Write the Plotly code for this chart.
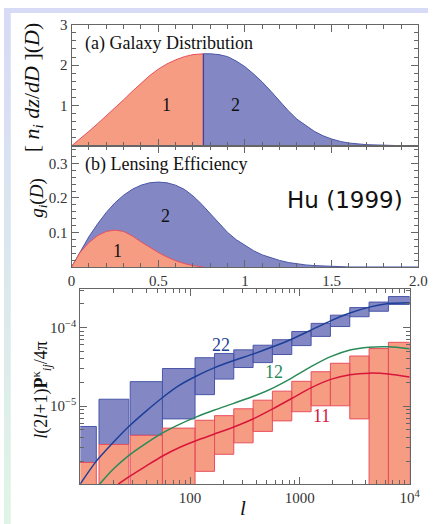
import plotly.graph_objects as go

# ---------------- data: panel (a) galaxy distribution ----------------
D_a1 = [0, 0.05, 0.1, 0.15, 0.2, 0.25, 0.3, 0.35, 0.4, 0.45, 0.5, 0.55, 0.6, 0.65, 0.7, 0.76]
n_a1 = [0, 0.17, 0.36, 0.55, 0.74, 0.94, 1.14, 1.35, 1.55, 1.74, 1.90, 2.03, 2.13, 2.21, 2.26, 2.28]
D_a2 = [0.76, 0.8, 0.85, 0.9, 0.95, 1.0, 1.05, 1.1, 1.15, 1.2, 1.25, 1.3, 1.35, 1.4, 1.45, 1.5,
        1.55, 1.6, 1.7, 1.8, 1.9, 2.0]
n_a2 = [2.28, 2.28, 2.26, 2.21, 2.10, 1.96, 1.78, 1.58, 1.35, 1.11, 0.87, 0.66, 0.50, 0.36, 0.25, 0.17,
        0.11, 0.07, 0.03, 0.012, 0.004, 0.001]

# ---------------- data: panel (b) lensing efficiency ----------------
D_b2 = [0, 0.05, 0.1, 0.15, 0.2, 0.25, 0.3, 0.35, 0.4, 0.45, 0.5, 0.55, 0.6, 0.65, 0.7, 0.75,
        0.8, 0.85, 0.9, 0.95, 1.0, 1.05, 1.1, 1.15, 1.2, 1.25, 1.3, 1.35, 1.4, 1.5, 1.6, 2.0]
g_b2 = [0, 0.045, 0.088, 0.125, 0.158, 0.186, 0.208, 0.225, 0.237, 0.244, 0.246, 0.244, 0.237, 0.225,
        0.206, 0.182, 0.155, 0.126, 0.100, 0.079, 0.062, 0.047, 0.035, 0.026, 0.019, 0.013, 0.009,
        0.006, 0.004, 0.001, 0, 0]
D_b1 = [0, 0.05, 0.1, 0.15, 0.2, 0.25, 0.3, 0.35, 0.4, 0.45, 0.5, 0.55, 0.6, 0.65, 0.7, 0.76]
g_b1 = [0, 0.043, 0.071, 0.091, 0.103, 0.107, 0.103, 0.090, 0.073, 0.057, 0.042, 0.029, 0.018,
        0.010, 0.004, 0]

# ---------------- data: panel (c) power spectra ----------------
bin_lo = [9, 14.8, 28.5, 56, 111, 167, 250, 375, 562, 844, 1266, 1898, 2848, 4271, 6407]
bin_hi = [14, 27.7, 56, 111, 167, 250, 375, 562, 844, 1266, 1898, 2848, 4271, 6407, 10000]
p22_lo = [1.92e-6, 3.25e-6, 4.25e-6, 6.88e-6, 1.40e-5, 2.21e-5, 3.10e-5, 3.58e-5, 4.54e-5, 5.89e-5,
          7.72e-5, 1.03e-4, 1.372e-4, 1.612e-4, 1.97e-4]
p22_hi = [5.51e-6, 1.224e-5, 2.05e-5, 3.01e-5, 4.13e-5, 4.68e-5, 5.20e-5, 5.96e-5, 7.00e-5, 8.91e-5,
          1.13e-4, 1.437e-4, 1.795e-4, 2.11e-4, 2.48e-4]
p11_lo = [5e-7, 5e-7, 5e-7, 5e-7, 1.48e-6, 2.44e-6, 3.41e-6, 4.77e-6, 6.49e-6, 8.49e-6, 1.01e-5,
          1.01e-5, 6.88e-6, 5e-7, 5e-7]
p11_hi = [1.92e-6, 3.25e-6, 4.25e-6, 5.25e-6, 6.61e-6, 7.56e-6, 9.25e-6, 1.19e-5, 1.55e-5, 2.07e-5,
          2.74e-5, 3.51e-5, 4.34e-5, 5.40e-5, 6.49e-5]

l_22 = [10, 14, 20, 28.1, 40, 56.2, 79, 113, 167, 250, 378, 566, 849, 1274, 1905, 2864, 4285, 6427, 10000]
c_22 = [1.023e-6, 1.995e-6, 3.467e-6, 5.623e-6, 8.71e-6, 1.288e-5, 1.820e-5, 2.399e-5, 3.090e-5,
        3.802e-5, 4.624e-5, 5.689e-5, 7.161e-5, 9.333e-5, 1.216e-4, 1.531e-4, 1.820e-4, 2.018e-4, 2.070e-4]
l_12 = [15, 20, 28.1, 40, 56.2, 79, 113, 167, 250, 378, 566, 849, 1274, 1905, 2864, 4285, 6427, 10000]
c_12 = [1.02e-6, 1.585e-6, 2.399e-6, 3.388e-6, 4.571e-6, 5.821e-6, 7.244e-6, 8.913e-6, 1.084e-5,
        1.334e-5, 1.698e-5, 2.291e-5, 3.199e-5, 4.266e-5, 5.188e-5, 5.623e-5, 5.689e-5, 5.370e-5]
l_11 = [22.2, 28.1, 40, 56.2, 79, 113, 167, 250, 378, 566, 849, 1274, 1905, 2864, 4285, 6427, 10000]
c_11 = [1.02e-6, 1.274e-6, 1.738e-6, 2.317e-6, 2.951e-6, 3.631e-6, 4.416e-6, 5.433e-6, 6.918e-6,
        9.226e-6, 1.259e-5, 1.718e-5, 2.188e-5, 2.512e-5, 2.630e-5, 2.570e-5, 2.344e-5]

# ---------------- styles ----------------
RED_FILL = "#f59c82"
RED_LINE = "#e8505e"
BLUE_FILL = "#8388c4"
BLUE_LINE = "#4a56a8"
BLUE_CURVE = "#1d3f98"
RED_CURVE = "#d8163a"
GREEN_CURVE = "#2a8a58"
AX = "#666666"
SERIF = "Times New Roman, Liberation Serif, Tinos, DejaVu Serif, serif"

fig = go.Figure()

# panel (a)
fig.add_trace(go.Scatter(x=D_a2, y=n_a2, mode="lines", fill="tozeroy", fillcolor=BLUE_FILL,
                         line=dict(color=BLUE_LINE, width=1), xaxis="x", yaxis="y"))
fig.add_trace(go.Scatter(x=D_a1, y=n_a1, mode="lines", fill="tozeroy", fillcolor=RED_FILL,
                         line=dict(color=RED_LINE, width=1), xaxis="x", yaxis="y"))
fig.add_trace(go.Scatter(x=[D_a1[-1], D_a1[-1]], y=[0, n_a1[-1]], mode="lines",
                         line=dict(color="#4a3f98", width=1.3), xaxis="x", yaxis="y"))

# panel (b)
fig.add_trace(go.Scatter(x=D_b2, y=g_b2, mode="lines", fill="tozeroy", fillcolor=BLUE_FILL,
                         line=dict(color=BLUE_LINE, width=1), xaxis="x2", yaxis="y2"))
fig.add_trace(go.Scatter(x=D_b1, y=g_b1, mode="lines", fill="tozeroy", fillcolor=RED_FILL,
                         line=dict(color=RED_LINE, width=1), xaxis="x2", yaxis="y2"))


def boxes(lo_x, hi_x, lo_y, hi_y):
    xs, ys = [], []
    for a, b, lo, hi in zip(lo_x, hi_x, lo_y, hi_y):
        xs += [a, b, b, a, a, None]
        ys += [lo, lo, hi, hi, lo, None]
    return xs, ys


bx, by = boxes(bin_lo, bin_hi, p22_lo, p22_hi)
fig.add_trace(go.Scatter(x=bx, y=by, mode="lines", fill="toself", fillcolor=BLUE_FILL,
                         line=dict(color=BLUE_LINE, width=1), xaxis="x3", yaxis="y3"))
rx, ry = boxes(bin_lo, bin_hi, p11_lo, p11_hi)
fig.add_trace(go.Scatter(x=rx, y=ry, mode="lines", fill="toself", fillcolor=RED_FILL,
                         line=dict(color=RED_LINE, width=1), xaxis="x3", yaxis="y3"))
for lx, cy, col in [(l_22, c_22, BLUE_CURVE), (l_12, c_12, GREEN_CURVE), (l_11, c_11, RED_CURVE)]:
    fig.add_trace(go.Scatter(x=lx, y=cy, mode="lines",
                             line=dict(color=col, width=1.5, shape="spline", smoothing=0.8),
                             xaxis="x3", yaxis="y3"))

tickfont = dict(family=SERIF, size=15, color="#333333")
common = dict(showline=True, linecolor=AX, linewidth=1.2, mirror="ticks", ticks="inside",
              tickcolor=AX, ticklen=7, showgrid=False, zeroline=False, tickfont=tickfont)

dom_x = [70 / 439, 429 / 439]
minor_lin_x = dict(dtick=0.1, ticks="inside", ticklen=4, tickcolor=AX, showgrid=False)

decade_minor = lambda lo, hi: [m * 10 ** e for e in range(lo, hi) for m in range(2, 10)]

fig.update_layout(
    width=439, height=524, margin=dict(l=0, r=0, t=0, b=0),
    font=dict(family=SERIF, size=15, color="#333333"),
    paper_bgcolor="white", plot_bgcolor="white", showlegend=False,
    xaxis=dict(domain=dom_x, range=[0, 2], anchor="y", tickvals=[0, 0.5, 1, 1.5, 2],
               showticklabels=False, minor=minor_lin_x, **common),
    yaxis=dict(domain=[1 - 140 / 524, 1 - 17 / 524], range=[0, 3], anchor="x",
               tickvals=[1, 2, 3], ticktext=["1", "2", "3"],
               minor=dict(dtick=0.2, ticks="inside", ticklen=4, tickcolor=AX, showgrid=False), **common),
    xaxis2=dict(domain=dom_x, range=[0, 2], anchor="y2", tickvals=[0, 0.5, 1, 1.5, 2],
                ticktext=["0", "0.5", "1", "1.5", "2.0"], minor=minor_lin_x, **common),
    yaxis2=dict(domain=[1 - 263 / 524, 1 - 140 / 524], range=[0, 0.351], anchor="x2",
                tickvals=[0.1, 0.2, 0.3], ticktext=["0.1", "0.2", "0.3"],
                minor=dict(dtick=0.02, ticks="inside", ticklen=4, tickcolor=AX, showgrid=False), **common),
    xaxis3=dict(domain=[79 / 439, 420 / 439], type="log", range=[1, 4], anchor="y3",
                tickvals=[10, 100, 1000, 10000], ticktext=["", "100", "1000", "10<sup>4</sup>"],
                minor=dict(tickvals=decade_minor(1, 4), ticks="inside", ticklen=4, tickcolor=AX,
                           showgrid=False), **common),
    yaxis3=dict(domain=[1 - 483.3 / 524, 1 - 285 / 524], type="log", range=[-5.99, -3.505], anchor="x3",
                tickvals=[1e-5, 1e-4], ticktext=["10<sup>\u22125</sup>", "10<sup>\u22124</sup>"],
                minor=dict(tickvals=decade_minor(-6, -3), ticks="inside", ticklen=4, tickcolor=AX,
                           showgrid=False), **common),
)

# background strips (slide-like frame)
shapes = [dict(type="rect", xref="paper", yref="paper", x0=0, x1=1, y0=1 - 5 / 524, y1=1,
               fillcolor="#d7dbf6", line=dict(width=0), layer="below")]
top_c = (0xd7, 0xdb, 0xf6)
bot_c = (0xdf, 0xf4, 0xe6)
n = 24
for i in range(n):
    t = i / (n - 1)
    c = tuple(int(round(top_c[k] + (bot_c[k] - top_c[k]) * t)) for k in range(3))
    shapes.append(dict(type="rect", xref="paper", yref="paper", x0=0, x1=7 / 439,
                       y0=1 - (i + 1) / n - 0.002, y1=1 - i / n,
                       fillcolor="rgb(%d,%d,%d)" % c, line=dict(width=0), layer="below"))
fig.update_layout(shapes=shapes)

ann = []
def txt(text, x, y, size, color="#111111", xref="paper", yref="paper", family=SERIF, angle=0, xanchor="center"):
    ann.append(dict(text=text, x=x, y=y, xref=xref, yref=yref, showarrow=False, textangle=angle,
                    font=dict(family=family, size=size, color=color), xanchor=xanchor, yanchor="middle"))

txt("(a) Galaxy Distribution", 82 / 439, 1 - 36 / 524, 18, xanchor="left")
txt("(b) Lensing Efficiency", 82 / 439, 1 - 159 / 524, 18, xanchor="left")
txt("1", 0.55, 1.0, 18, xref="x", yref="y")
txt("2", 0.947, 1.0, 18, xref="x", yref="y")
txt("2", 0.539, 0.149, 18, xref="x2", yref="y2")
txt("1", 0.267, 0.047, 18, xref="x2", yref="y2")
txt("Hu (1999)", 353 / 439, 1 - 195 / 524, 23, family="DejaVu Sans")
txt("[ <i>n<sub>i</sub> dz</i>/<i>dD</i> ](<i>D</i>)", 29.5 / 439, 1 - 80 / 524, 22, angle=-90)
txt("<i>g<sub>i</sub></i>(<i>D</i>)", 35 / 439, 1 - 193 / 524, 19, angle=-90)
txt("<i>l</i>(2<i>l</i>+1)<b>P</b><sup>\u03ba</sup><sub><i>ij</i></sub>/4\u03c0", 38 / 439, 1 - 388 / 524, 18, angle=-90)
txt("<i>l</i>", 247 / 439, 1 - 508 / 524, 21)
txt("22", 2.284, -4.2175, 18, color=BLUE_CURVE, xref="x3", yref="y3")
txt("12", 2.768, -4.571, 18, color=GREEN_CURVE, xref="x3", yref="y3")
txt("11", 3.199, -5.121, 18, color=RED_CURVE, xref="x3", yref="y3")
fig.update_layout(annotations=ann)

fig.write_html("out.html")
